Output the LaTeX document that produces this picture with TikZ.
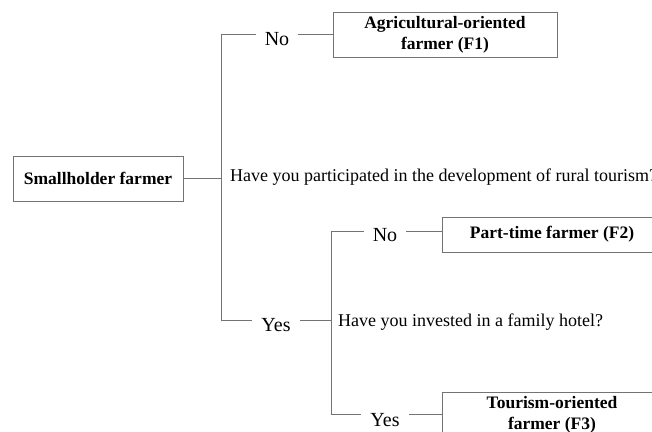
\documentclass[tikz,border=0pt]{standalone}
\usepackage{fontspec}
\setmainfont{Liberation Serif}
\usetikzlibrary{calc}
\tikzset{
  ln/.style={draw=black!55,line width=.9pt},
  box/.style={ln,align=center,inner sep=0pt,font=\fontsize{17.5}{21}\selectfont\bfseries},
  ans/.style={inner sep=0pt,inner xsep=9pt,anchor=base,font=\fontsize{20}{24}\selectfont},
  ques/.style={inner sep=0pt,anchor=base west,font=\fontsize{18}{22}\selectfont},
}
\begin{document}
\begin{tikzpicture}[x=1pt,y=1pt]
\clip (0,0) rectangle (652,431);
\node[box,minimum width=170,minimum height=45] (sh) at (98,252.5) {Smallholder farmer};
\coordinate (at) at (221,396.5);
\coordinate (ab) at (221,110.5);
\coordinate (bt) at (331,200);
\coordinate (bb) at (331,17);
\node[box,minimum width=224,minimum height=45] (f1) at (445,396.5) {Agricultural-oriented\\farmer (F1)};
\node[box,minimum width=220,minimum height=35] (f2) at (552,196.5) {Part-time farmer (F2)};
\node[box,minimum width=220,minimum height=45] (f3) at (552,16.5) {Tourism-oriented\\farmer (F3)};
\node[ans] (no1) at (277,385.3) {No};
\node[ans] (yes1) at (276,99.3) {Yes};
\node[ans] (no2) at (385,189.3) {No};
\node[ans] (yes2) at (385,4.3) {Yes};
\node[ques] (q1) at (230,249) {Have you participated in the development of rural tourism?};
\node[ques] (q2) at (338,104.3) {Have you invested in a family hotel?};
% first split
\draw[ln] (sh.east) -- (sh.east -| at);
\draw[ln] (at) -- (ab);
\draw[ln] (at) -- (at -| no1.west);
\draw[ln] (no1.east |- at) -- (f1.west);
\draw[ln] (ab) -- (ab -| yes1.west);
\draw[ln] (yes1.east |- ab) -- (ab -| bt);
% second split
\draw[ln] (bt) -- (bb);
\draw[ln] (bt) -- (bt -| no2.west);
\draw[ln] (no2.east |- bt) -- (bt -| f2.west);
\draw[ln] (bb) -- (bb -| yes2.west);
\draw[ln] (yes2.east |- bb) -- (bb -| f3.west);
\end{tikzpicture}
\end{document}
